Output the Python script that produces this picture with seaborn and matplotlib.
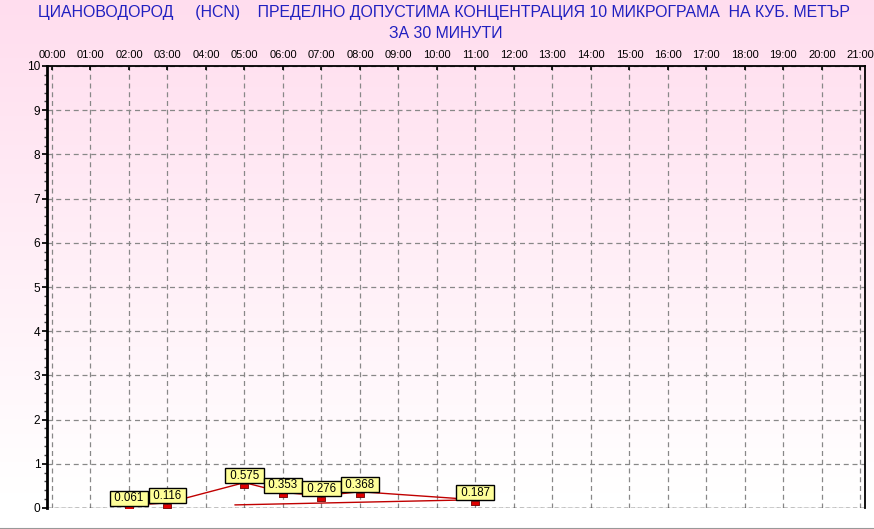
import numpy as np
import pandas as pd
import matplotlib
matplotlib.use("Agg")
import matplotlib.pyplot as plt
import matplotlib.transforms as mtransforms
from matplotlib.lines import Line2D
import seaborn as sns

# ---- data ----
title_lines = ["ЦИАНОВОДОРОД     (HCN)    ПРЕДЕЛНО ДОПУСТИМА КОНЦЕНТРАЦИЯ 10 МИКРОГРАМА  НА КУБ. МЕТЪР",
               "ЗА 30 МИНУТИ"]
hour_labels = [f"{h:02d}:00" for h in range(22)]
hours = [2, 3, 5, 6, 7, 8, 11]
values = [0.061, 0.116, 0.575, 0.353, 0.276, 0.368, 0.187]
label_texts = ["0.061", "0.116", "0.575", "0.353", "0.276", "0.368", "0.187"]
# the drawn path returns from the last point back towards the left
path_hours = hours + [4.75]
path_values = values + [0.07]
y_ticks = list(range(0, 11))

sns.set_theme(style="white")
plt.rcParams['font.family'] = ['Liberation Sans', 'DejaVu Sans']

W, H = 874, 529
fig = plt.figure(figsize=(W / 100, H / 100), dpi=100)

# background gradient
bg = fig.add_axes([0, 0, 1, 1], zorder=-10)
t = np.clip(np.linspace(0, 1, 256) / 0.93, 0, 1).reshape(-1, 1)
top = np.array([255, 221, 238]) / 255.0
bot = np.array([255, 255, 255]) / 255.0
cols = (top[None, :] * (1 - t) + bot[None, :] * t).reshape(256, 1, 3)
bg.imshow(cols, aspect='auto', extent=[0, 1, 0, 1], origin='upper')
bg.set_axis_off()

left, right, ytop, ybot = 47, 865, 66, 508
ax = fig.add_axes([left / W, (H - ybot) / H, (right - left) / W, (ybot - ytop) / H])
ax.patch.set_alpha(0)

df = pd.DataFrame({"hour": path_hours, "value": path_values})
sns.lineplot(data=df, x="hour", y="value", sort=False, ax=ax, color="#C00000",
             linewidth=1.0, zorder=3)

pts = pd.DataFrame({"hour": hours, "value": values})
offset = mtransforms.offset_copy(ax.transData, fig=fig, x=0, y=-3, units='dots')
rect_marker = [(-1, -0.5), (1, -0.5), (1, 0.5), (-1, 0.5), (-1, -0.5)]
sns.scatterplot(data=pts, x="hour", y="value", ax=ax, marker=rect_marker, s=34,
                color="#E00000", edgecolor="#700000", linewidth=0.6,
                transform=offset, zorder=4)

for h, v, s in zip(hours, values, label_texts):
    ax.annotate(" " + s + " ", (h, v), xytext=(0, 7), textcoords='offset pixels',
                ha='center', va='center', fontsize=8.3, color='black', zorder=5,
                bbox=dict(boxstyle='square,pad=0.12', fc='#FFFF99', ec='black', lw=1.0))

ax.set_xlim(-0.13, 21.12)
ax.set_ylim(0, 10)
ax.set_xticks(range(22))
ax.set_xticklabels(hour_labels)
ax.set_yticks(y_ticks)
ax.set_yticklabels([str(v) for v in y_ticks])
ax.set_yticks(np.arange(0, 10.01, 0.2), minor=True)
ax.xaxis.tick_top()
ax.tick_params(axis='x', which='major', top=True, bottom=False, labeltop=True,
               labelbottom=False, labelsize=8, length=3, direction='in', pad=4.2,
               colors='black')
ax.tick_params(axis='y', which='major', left=True, labelsize=8.6, length=3.5,
               direction='out', pad=1.2, colors='black')
ax.tick_params(axis='y', which='minor', left=True, length=2, direction='out',
               color='#444444')
ax.set_xlabel("")
ax.set_ylabel("")

ax.grid(True, which='major', linestyle=(0, (4, 3)), color='#888888', linewidth=0.9)
ax.axhline(0, color='black', linestyle=(0, (3, 2)), linewidth=1.0, zorder=2)

ax.spines['left'].set_linewidth(2.0)
ax.spines['left'].set_color('black')
ax.spines['top'].set_linewidth(1.3)
ax.spines['top'].set_color('black')
ax.spines['right'].set_linewidth(1.3)
ax.spines['right'].set_color('black')
ax.spines['bottom'].set_visible(False)

fig.text(444 / W, 1 - 13 / H, title_lines[0], ha='center', va='center',
         fontsize=11.4, color='#2020C0')
fig.text(446 / W, 1 - 33 / H, title_lines[1], ha='center', va='center',
         fontsize=11.4, color='#2020C0')

fig.add_artist(Line2D([0, 1], [0.5 / H, 0.5 / H], transform=fig.transFigure,
                      color='#999999', linewidth=1.5))

fig.savefig("out.png", dpi=100)
